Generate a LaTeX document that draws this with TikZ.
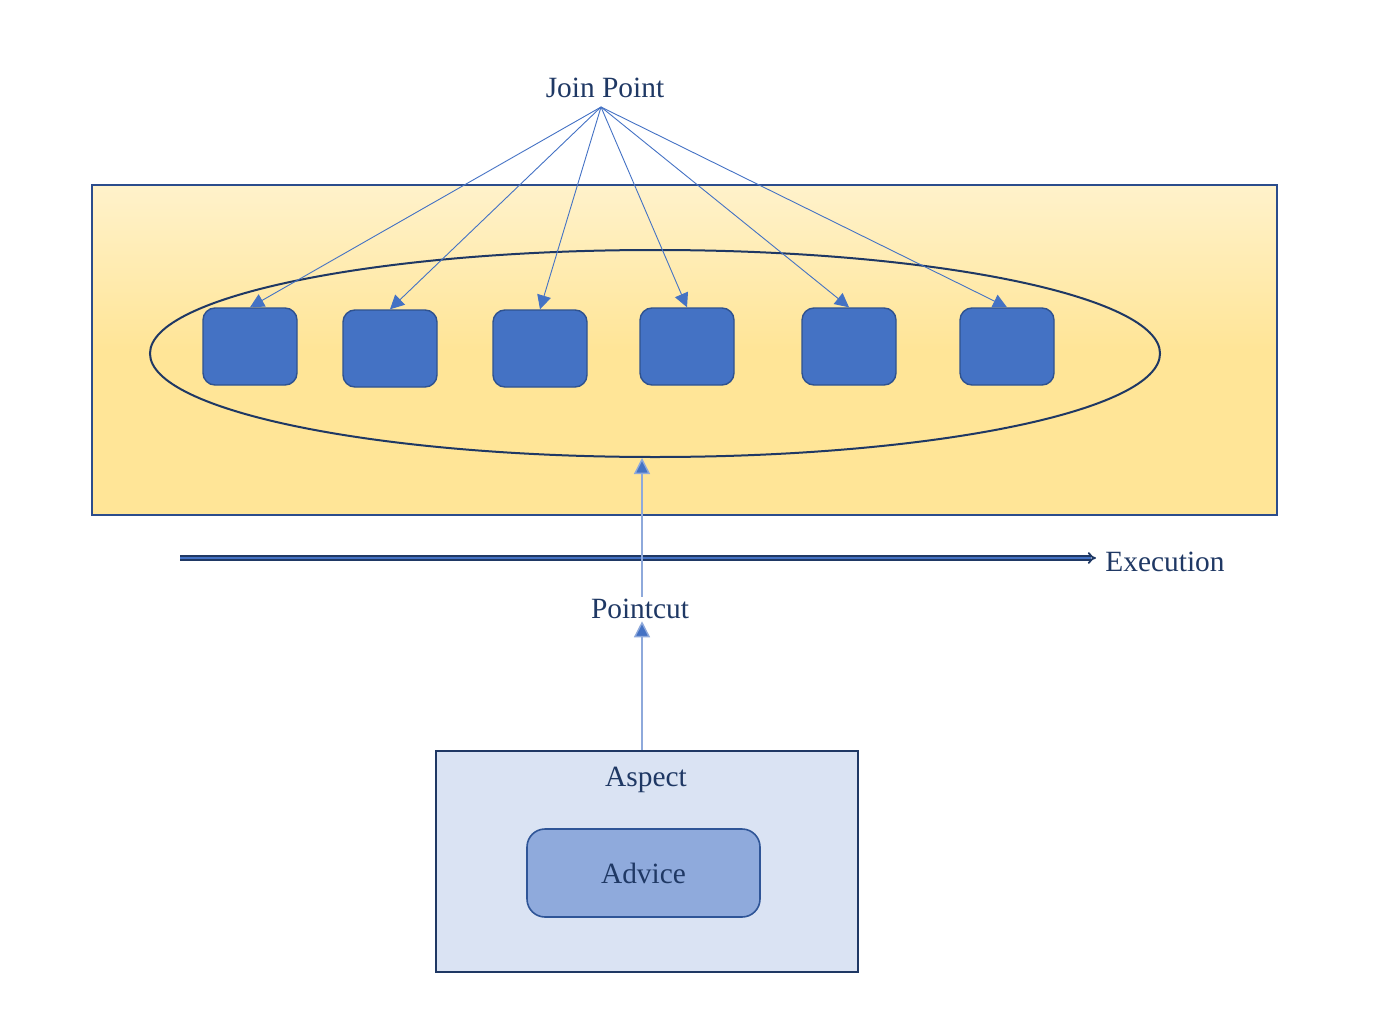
\documentclass[tikz,border=0pt]{standalone}
\usepackage{fontspec}
\setmainfont{Liberation Serif}
\usetikzlibrary{shapes.geometric,arrows.meta,positioning}

\definecolor{navy}{HTML}{1F3864}
\definecolor{jpblue}{HTML}{4472C4}
\definecolor{jpborder}{HTML}{2F528F}
\definecolor{framebl}{HTML}{2B4C8C}
\definecolor{pcline}{HTML}{8EA9DB}
\definecolor{jpyellow}{HTML}{FFE597}
\definecolor{aspfill}{HTML}{DAE3F3}
\definecolor{advfill}{HTML}{8FAADC}
\definecolor{advborder}{HTML}{2F5597}

\pgfdeclareverticalshading{progshade}{100bp}{color(0bp)=(jpyellow); color(50bp)=(jpyellow); color(100bp)=(white)}

\begin{document}
\begin{tikzpicture}[x=0.5pt,y=-0.5pt,
    lbl/.style={text=navy,font=\fontsize{14.7}{17}\selectfont,inner sep=1pt},
    jpbox/.style={draw=jpborder,line width=0.7pt,fill=jpblue,rounded corners=6pt,
        minimum width=47pt,minimum height=38.5pt,inner sep=0pt},
    jparrow/.style={draw=jpblue,line width=0.45pt,-{Triangle[length=7pt,width=7pt,fill=jpblue]}},
    pcarrow/.style={draw=pcline,line width=0.7pt,-{Triangle[length=8pt,width=8pt,fill=jpblue]}}]
    \useasboundingbox (0,0) rectangle (1400,1016);

    % program area
    \node[draw=framebl,line width=1pt,shading=progshade,minimum width=592.5pt,minimum height=165pt,inner sep=0pt] (prog) at (684.5,350) {};
    \node[draw=navy,line width=1pt,ellipse,minimum width=505pt,minimum height=103.5pt,inner sep=0pt] (pc) at (655,353.5) {};

    % join points
    \node[jpbox] (b1) at (250,346.5) {};
    \node[jpbox] (b2) at (390,348.5) {};
    \node[jpbox] (b3) at (540,348.5) {};
    \node[jpbox] (b4) at (687,346.5) {};
    \node[jpbox] (b5) at (849,346.5) {};
    \node[jpbox] (b6) at (1007,346.5) {};

    \node[lbl] (jp) at (605,88) {Join Point};
    \coordinate (jpo) at (601,107);
    \foreach \b in {b1,b2,b3,b4,b5,b6}
        \draw[jparrow] (jpo) -- (\b.north);

    % execution
    \node[lbl] (exe) at (1165,562) {Execution};
    \coordinate (exs) at (180,558);
    \coordinate (exd) at (1096,558);
    \draw[draw=navy,double=jpblue,line width=0.9pt,double distance=1pt,-{Implies[length=5pt]}] (exs) -- (exd);

    % aspect
    \node[draw=navy,line width=1pt,fill=aspfill,minimum width=211pt,minimum height=110.5pt,inner sep=0pt] (asp) at (647,861.5) {};
    \node[lbl] (asptxt) at (646,780) {Aspect};
    \node[lbl,draw=advborder,line width=0.8pt,fill=advfill,rounded corners=9pt,minimum width=116.5pt,minimum height=44pt] (adv) at (643.5,873) {Advice};

    \node[lbl] (pcut) at (640,609) {Pointcut};
    \draw[pcarrow] (asp.north -| 642,0) -- (pcut.south -| 642,0);
    \draw[pcarrow] (pcut.north -| 642,0) -- (pc.south -| 642,0);
\end{tikzpicture}
\end{document}
